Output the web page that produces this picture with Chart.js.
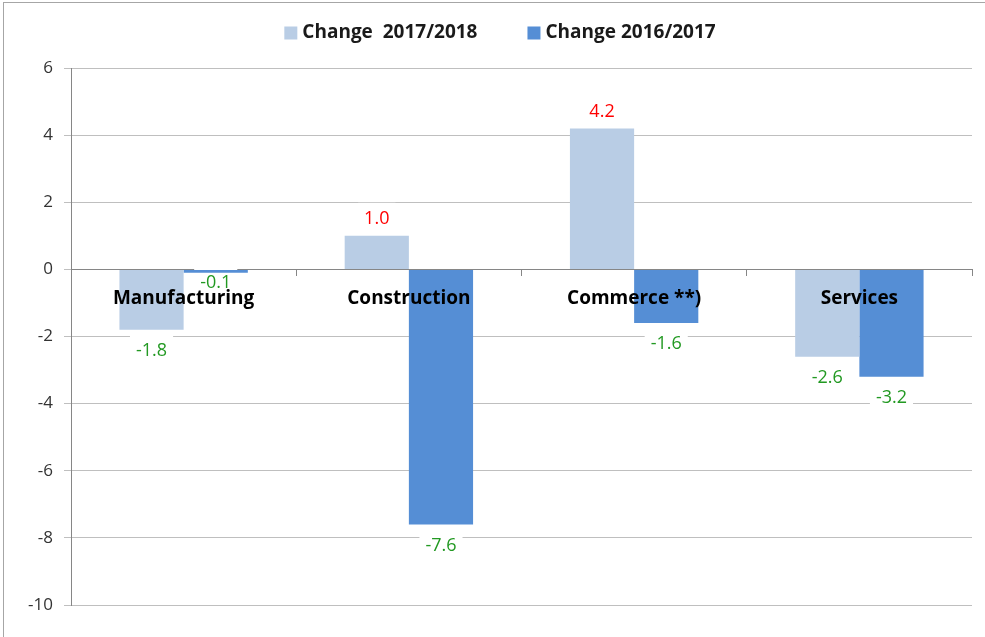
<!DOCTYPE html>
<html>
<head>
<meta charset="utf-8">
<script src="https://cdn.jsdelivr.net/npm/chart.js@4/dist/chart.umd.min.js"></script>
<style>
  html, body { margin: 0; padding: 0; background: #fff; }
  #wrap { width: 985px; height: 637px; }
</style>
</head>
<body>
<div id="wrap"><canvas id="chartChange"></canvas></div>
<script>
const categories = ['Manufacturing', 'Construction', 'Commerce **)', 'Services'];
const change1718 = [-1.8, 1.0, 4.2, -2.6];
const change1617 = [-0.1, -7.6, -1.6, -3.2];
const seriesNames = ['Change  2017/2018', 'Change 2016/2017'];
const seriesColors = ['#b9cde5', '#558ed5'];
const yTicks = [6, 4, 2, 0, -2, -4, -6, -8, -10];

const FONT = "'Open Sans', 'Noto Sans', sans-serif";

// outer frame like the original picture
const framePlugin = {
    id: 'frame',
    beforeDraw(chart) {
        const ctx = chart.ctx;
        ctx.save();
        ctx.strokeStyle = '#a6a6a6';
        ctx.lineWidth = 1;
        ctx.strokeRect(3.5, 2.5, 1000, 700);
        ctx.restore();
    }
};

// legend drawn by hand so it can sit high above the plot
const topLegend = {
    id: 'topLegend',
    afterDraw(chart) {
        const ctx = chart.ctx;
        ctx.save();
        ctx.font = 'bold 19px ' + FONT;
        ctx.textBaseline = 'middle';
        const box = 13, gap = 5, between = 50, cy = 33;
        const widths = seriesNames.map(n => ctx.measureText(n).width);
        let total = 0;
        widths.forEach(w => { total += box + gap + w; });
        total += between * (seriesNames.length - 1);
        let x = 500 - total / 2;
        seriesNames.forEach((n, i) => {
            ctx.fillStyle = seriesColors[i];
            ctx.fillRect(x, cy - box / 2, box, box);
            ctx.fillStyle = '#1a1a1a';
            ctx.fillText(n, x + box + gap, cy);
            x += box + gap + widths[i] + between;
        });
        ctx.restore();
    }
};

// value labels: white box under the bars, text on top
let labelPos = (chart, bar, v) => {
    const zeroY = chart.scales.y.getPixelForValue(0);
    if (v >= 0) return bar.y - 17;
    let y = bar.y + 21;
    if (y - zeroY < 36) y = zeroY + 13;
    return y;
};

const valueLabels = {
    id: 'valueLabels',
    beforeDatasetsDraw(chart) {
        const ctx = chart.ctx;
        ctx.save();
        ctx.font = '18px ' + FONT;
        ctx.fillStyle = '#ffffff';
        chart.data.datasets.forEach((ds, i) => {
            chart.getDatasetMeta(i).data.forEach((bar, j) => {
                const v = ds.data[j];
                const t = v.toFixed(1);
                const w = ctx.measureText(t).width + 12;
                const y = labelPos(chart, bar, v);
                ctx.fillRect(bar.x - w / 2, y - 16, w, 32);
            });
        });
        ctx.restore();
    },
    afterDatasetsDraw(chart) {
        const ctx = chart.ctx;
        ctx.save();
        ctx.font = '18px ' + FONT;
        ctx.textAlign = 'center';
        ctx.textBaseline = 'middle';
        chart.data.datasets.forEach((ds, i) => {
            chart.getDatasetMeta(i).data.forEach((bar, j) => {
                const v = ds.data[j];
                ctx.fillStyle = v >= 0 ? '#ff0000' : '#229922';
                ctx.fillText(v.toFixed(1), bar.x, labelPos(chart, bar, v));
            });
        });
        // category names sit inside the plot, just under the zero line
        const x = chart.scales.x;
        const zeroY = chart.scales.y.getPixelForValue(0);
        ctx.font = 'bold 19px ' + FONT;
        ctx.fillStyle = '#000000';
        categories.forEach((c, k) => {
            ctx.fillText(c, x.getPixelForValue(k), zeroY + 29);
        });
        ctx.restore();
    }
};

new Chart('chartChange', {
    type: 'bar',
    data: {
        labels: categories,
        datasets: [{
            label: seriesNames[0],
            data: change1718,
            backgroundColor: seriesColors[0],
            borderWidth: 0
        }, {
            label: seriesNames[1],
            data: change1617,
            backgroundColor: seriesColors[1],
            borderWidth: 0
        }]
    },
    options: {
        responsive: true,
        maintainAspectRatio: false,
        animation: false,
        layout: { padding: { left: 0, right: 13, top: 68, bottom: 32 } },
        datasets: { bar: { categoryPercentage: 0.57, barPercentage: 1.0 } },
        plugins: {
            tooltip: { enabled: false },
            legend: { display: false }
        },
        scales: {
            x: {
                position: { y: 0 },
                grid: {
                    drawOnChartArea: false,
                    drawTicks: true,
                    tickLength: 6,
                    color: '#868686'
                },
                border: { display: true, color: '#868686' },
                ticks: { display: false }
            },
            y: {
                min: -10,
                max: 6,
                afterBuildTicks: (s) => { s.ticks = yTicks.map(v => ({ value: v })); },
                afterFit: (s) => { s.width = 71; },
                grid: {
                    color: (c) => c.tick && c.tick.value === 0 ? '#868686' : '#bfbfbf',
                    tickLength: 7,
                    tickColor: '#bfbfbf'
                },
                border: { display: true, color: '#868686' },
                ticks: {
                    padding: 11,
                    color: '#333333',
                    font: { family: FONT, size: 17 }
                }
            }
        }
    },
    plugins: [framePlugin, topLegend, valueLabels]
});
</script>
</body>
</html>
